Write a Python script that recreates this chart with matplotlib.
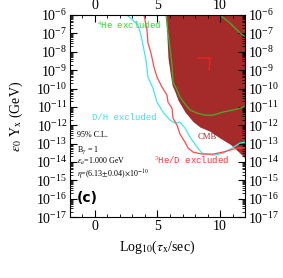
import numpy as np
import matplotlib
matplotlib.use('Agg')
import matplotlib.pyplot as plt
from matplotlib.ticker import LogLocator, MultipleLocator, NullFormatter

# curves: x = log10(tau/sec), y = log10(eps0 * Y_X / GeV)
dh_x = [2.56, 3.44, 3.68, 3.84, 4.08, 4.24, 4.64, 4.96, 5.44, 6.0, 6.4, 6.8,
        7.2, 7.6, 8.16, 8.56, 9.44, 10.24, 10.96, 11.6, 12.0]
dh_y = [-6.0, -6.54, -7.09, -7.63, -8.45, -9.38, -9.98, -10.74, -11.28, -11.72,
        -11.88, -11.83, -12.15, -12.64, -13.19, -13.52, -13.63, -13.52, -13.24,
        -12.97, -12.92]

he3_x = [3.92, 4.16, 4.24, 4.48, 4.72, 4.96, 5.36, 5.76, 5.84, 6.16, 6.24, 6.56,
         6.8, 7.2, 7.44, 7.84, 8.56, 9.44, 10.24, 10.8, 11.36, 12.0]
he3_y = [-6.0, -6.82, -7.53, -8.07, -8.83, -9.38, -9.92, -10.36, -10.74, -11.07,
         -11.61, -11.99, -12.48, -12.92, -13.24, -13.46, -13.57, -13.57, -13.46,
         -13.35, -13.24, -13.24]

cmb_x = [5.72, 5.76, 5.84, 6.0, 6.16, 6.4, 6.64, 7.2, 7.84, 8.4, 9.2, 10.0,
         10.8, 11.6, 12.0]
cmb_y = [-6.0, -7.25, -8.34, -9.1, -9.81, -10.19, -10.63, -11.28, -11.8,
         -12.1, -12.33, -12.7, -13.03, -13.52, -13.79]

he4_x = [5.68, 5.76, 6.0, 6.16, 6.24, 6.56, 6.8, 7.2, 7.6, 8.16, 8.8, 9.44,
         10.24, 11.04, 11.6, 12.0]
he4_y = [-6.0, -6.54, -7.8, -8.72, -9.65, -10.08, -10.47, -10.85, -11.17,
         -11.34, -11.45, -11.45, -11.28, -11.17, -11.07, -10.98]

he4b_x = [10.0, 10.8, 11.6, 12.0]
he4b_y = [-6.0, -6.44, -6.98, -7.17]

blip_x = [8.24, 9.2, 9.12]
blip_y = [-8.34, -8.34, -9.0]

brown = '#a52a2a'
serif = 'Liberation Serif'
mono = 'Liberation Mono'
plt.rcParams['mathtext.fontset'] = 'stix'
plt.rcParams['font.family'] = serif

fig = plt.figure(figsize=(2.83, 2.78), dpi=100)
ax = fig.add_axes([0.247, 0.219, 0.619, 0.727])

# CMB excluded region
ax.fill_between(cmb_x, 10.0 ** np.array(cmb_y), 1e-6, color=brown, lw=0)
ax.plot(dh_x, 10.0 ** np.array(dh_y), color='#40e8f0', lw=0.9)
ax.plot(he3_x, 10.0 ** np.array(he3_y), color='#ff4a4a', lw=0.9)
ax.plot(he4_x, 10.0 ** np.array(he4_y), color='#3cb428', lw=0.9)
ax.plot(he4b_x, 10.0 ** np.array(he4b_y), color='#3cb428', lw=0.9)
ax.plot(blip_x, 10.0 ** np.array(blip_y), color='#ff2020', lw=0.8)

ax.set_yscale('log')
ax.set_xlim(-2, 12)
ax.set_ylim(1e-17, 1e-6)

ax.xaxis.set_major_locator(MultipleLocator(5))
ax.xaxis.set_minor_locator(MultipleLocator(1))
ax.yaxis.set_major_locator(LogLocator(base=10, numticks=20))
ax.yaxis.set_minor_locator(LogLocator(base=10, subs=np.arange(2, 10), numticks=20))
ax.yaxis.set_minor_formatter(NullFormatter())
ax.tick_params(which='both', direction='in', top=True, right=True,
               labeltop=True, labelright=True, labelsize=10, pad=2)
ax.tick_params(which='major', length=5, width=0.8)
ax.tick_params(which='minor', length=2.5, width=0.6)
for sp in ax.spines.values():
    sp.set_linewidth(0.8)

ax.set_xlabel(r'Log$_{10}$($\tau_{\rm x}$/sec)', fontsize=10, labelpad=4)
ax.set_ylabel(r'$\epsilon_0$ Y$_{\rm x}$ (GeV)', fontsize=10)
ax.yaxis.set_label_coords(-0.255, 0.5)

ax.text(0.2, 10 ** -6.54, r'$^4$He excluded', color='#22dd22', fontsize=6.5,
        family=mono, va='center')
ax.text(-0.24, 10 ** -11.56, 'D/H excluded', color='#33e6e6', fontsize=6.5,
        family=mono, va='center')
ax.text(4.72, 10 ** -13.9, r'$^3$He/D excluded', color='#ff3030', fontsize=6.5,
        family=mono, va='center')
ax.text(8.96, 10 ** -12.66, 'CMB', color=brown, fontsize=6.2, ha='center', va='center')

info = ['95% C.L.', r'B$_\gamma$ = 1', r'$\epsilon_a$=1.000 GeV',
        r'$\eta$=(6.13$\pm$0.04)$\times$10$^{-10}$']
info_y = [-12.54, -13.33, -13.98, -14.68]
for s, yy in zip(info, info_y):
    ax.text(-1.4, 10 ** yy, s, fontsize=5.8, va='center')
ax.text(-1.45, 10 ** -15.97, '(c)', fontsize=10, fontweight='bold',
        family='DejaVu Sans', va='center')

fig.savefig('out.png', dpi=100)
